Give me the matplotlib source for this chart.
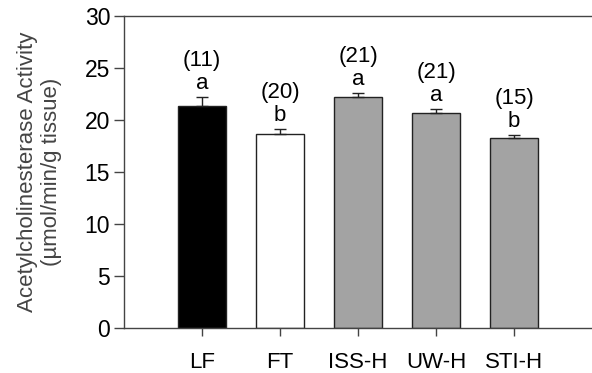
import numpy as np
from matplotlib import pyplot as plt

plt.rcParams["font.family"] = ["Liberation Sans", "DejaVu Sans"]

groups = ["LF", "FT", "ISS-H", "UW-H", "STI-H"]
means = [21.3, 18.7, 22.2, 20.7, 18.3]
sems = [0.95, 0.4, 0.4, 0.35, 0.3]
n_counts = ["(11)", "(20)", "(21)", "(21)", "(15)"]
letters = ["a", "b", "a", "a", "b"]
colors = ["black", "white", "#a3a3a3", "#a3a3a3", "#a3a3a3"]

fig = plt.figure(figsize=(5.92, 3.73), dpi=100)
ax = fig.add_axes([124 / 592, 45 / 373, 1 - 124 / 592, 312 / 373])

x = np.arange(len(groups))
ax.bar(
    x,
    means,
    width=0.61,
    color=colors,
    edgecolor="#222222",
    linewidth=1,
    yerr=[np.zeros(len(sems)), sems],
    error_kw=dict(ecolor="#222222", elinewidth=1, capsize=4, capthick=1),
)

# group size and significance letters above each error bar
for xi, m, s, n, let in zip(x, means, sems, n_counts, letters):
    ax.annotate(let, (xi, m + s), xytext=(0, 8), textcoords="offset pixels",
                ha="center", va="baseline", fontsize=16)
    ax.annotate(n, (xi, m + s), xytext=(0, 31), textcoords="offset pixels",
                ha="center", va="baseline", fontsize=16)

ax.set_xlim(-1, 5)
ax.set_ylim(0, 30)
ax.set_xticks(x)
ax.set_xticklabels(groups)
ax.set_yticks(np.arange(0, 31, 5))
ax.tick_params(axis="x", direction="out", length=6, width=1, pad=11,
               labelsize=16, color="#444444")
ax.tick_params(axis="y", direction="out", length=7, width=1, pad=3,
               labelsize=16.5, color="#444444")
ax.set_ylabel("Acetylcholinesterase Activity\n(µmol/min/g tissue)",
              fontsize=16, color="#444444", linespacing=1.2, labelpad=16)
for side in ["left", "top", "bottom"]:
    ax.spines[side].set_color("#444444")
    ax.spines[side].set_linewidth(1)
ax.spines["right"].set_visible(False)

fig.savefig("out.png", dpi=100)
